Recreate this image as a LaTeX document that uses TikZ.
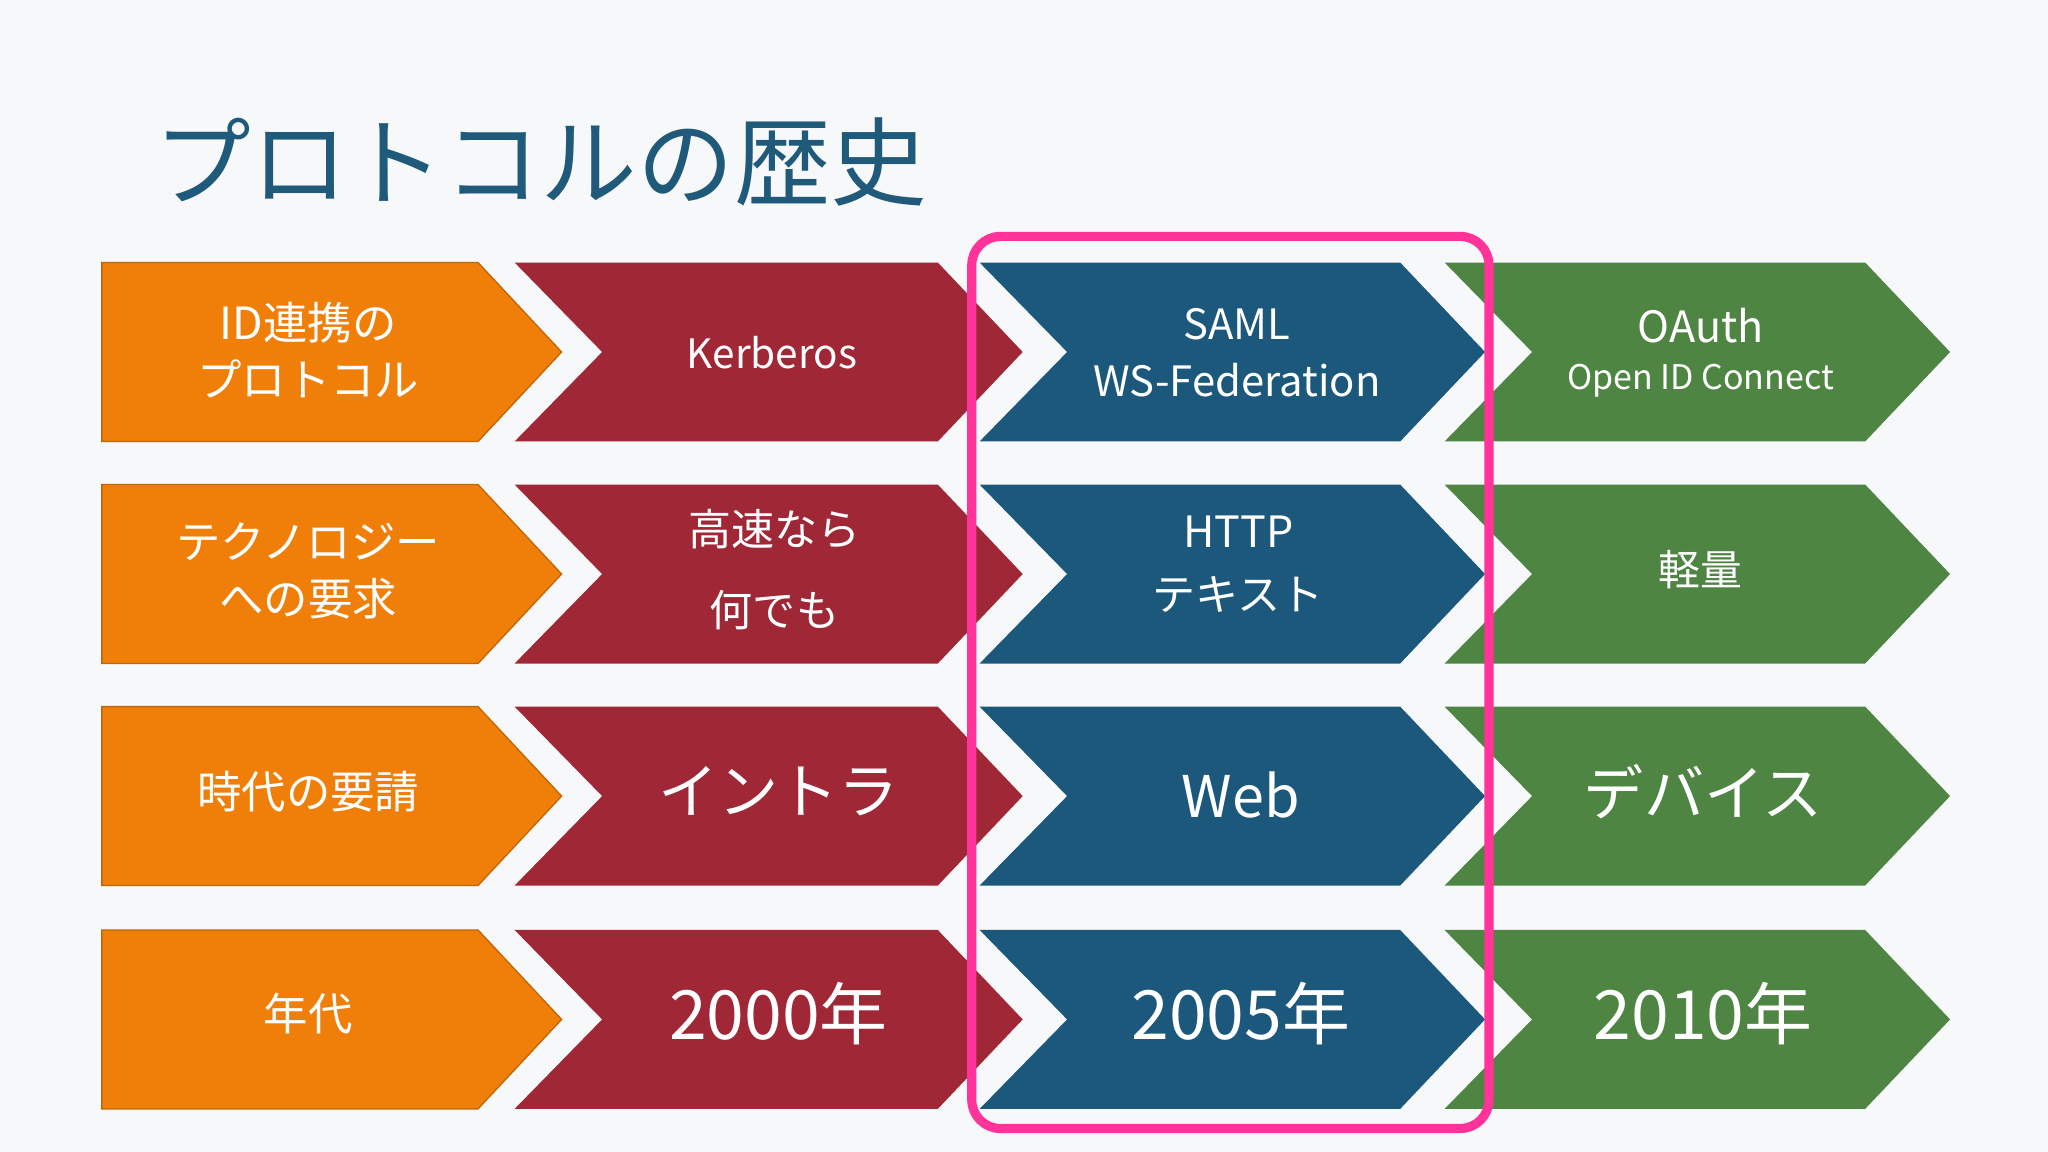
\documentclass[tikz,border=0pt]{standalone}
\usepackage{fontspec}
\setmainfont{Noto Sans CJK JP}
\definecolor{bg}{HTML}{F7F8FA}
\definecolor{cor}{HTML}{F07F09}
\definecolor{cred}{HTML}{A02735}
\definecolor{cblue}{HTML}{1B587C}
\definecolor{cgreen}{HTML}{4E8542}
\definecolor{ctitle}{HTML}{1F5A7A}
\definecolor{cpink}{HTML}{FF3399}
\newcommand{\chevr}[5]{% left right top notch? color
  \pgfmathsetmacro{\bt}{#3+137}\pgfmathsetmacro{\md}{#3+68.5}
  \ifnum#4=1
  \fill[#5] (#1,-#3) -- (#2,-#3) -- (#2+65,-\md) -- (#2,-\bt) -- (#1,-\bt) -- (#1+67,-\md) -- cycle;
  \else
  \filldraw[fill=#5,draw=#5!80!black,line width=1pt] (#1,-#3) -- (#2,-#3) -- (#2+64,-\md) -- (#2,-\bt) -- (#1,-\bt) -- cycle;
  \fi}
\tikzset{lbl/.style={text=white,align=center,font=\fontsize{34}{44}\selectfont,inner sep=0}}
\begin{document}
\begin{tikzpicture}[x=1pt,y=1pt]
\fill[bg] (0,0) rectangle (1568,-882);
\useasboundingbox (0,0) rectangle (1568,-882);
\node[anchor=west,text=ctitle,font=\fontsize{74}{80}\selectfont,inner sep=0] (title) at (118,-124) {プロトコルの歴史};
\foreach \t in {201,371,541,712}{
  \chevr{78}{366}{\t}{0}{cor}
  \chevr{394}{718}{\t}{1}{cred}
  \chevr{750}{1072}{\t}{1}{cblue}
  \chevr{1106}{1428}{\t}{1}{cgreen}
}
\draw[cpink,line width=7pt,rounded corners=22pt] (744,-181) rectangle (1140,-864);
% row 1
\node[lbl] (a1) at (236,-268) {ID連携の\\プロトコル};
\node[lbl,font=\fontsize{31}{40}\selectfont] (b1) at (591,-270) {Kerberos};
\node[lbl,font=\fontsize{32}{44}\selectfont] (c1) at (947,-270) {SAML\\WS-Federation};
\node[lbl,font=\fontsize{33}{36}\selectfont] (d1) at (1302,-270) {OAuth\\{\fontsize{26}{30}\selectfont Open ID Connect}};
% row 2
\node[lbl] (a2) at (236,-437) {テクノロジー\\への要求};
\node[lbl,font=\fontsize{33}{62}\selectfont] (b2) at (593,-436) {高速なら\\何でも};
\node[lbl,font=\fontsize{33}{48}\selectfont] (c2) at (948,-432) {HTTP\\テキスト};
\node[lbl,font=\fontsize{32}{40}\selectfont] (d2) at (1302,-436) {軽量};
% row 3
\node[lbl] (a3) at (236,-606) {時代の要請};
\node[lbl,font=\fontsize{46}{50}\selectfont] (b3) at (596,-606) {イントラ};
\node[lbl,font=\fontsize{44}{50}\selectfont] (c3) at (950,-609) {Web};
\node[lbl,font=\fontsize{46}{50}\selectfont] (d3) at (1304,-606) {デバイス};
% row 4
\node[lbl] (a4) at (236,-776) {年代};
\node[lbl,font=\fontsize{52}{56}\selectfont] (b4) at (596,-776) {2000年};
\node[lbl,font=\fontsize{52}{56}\selectfont] (c4) at (950,-776) {2005年};
\node[lbl,font=\fontsize{52}{56}\selectfont] (d4) at (1304,-776) {2010年};
\end{tikzpicture}
\end{document}
